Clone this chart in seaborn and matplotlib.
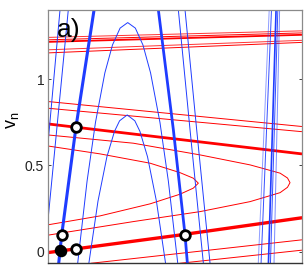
import matplotlib
matplotlib.use("Agg")
import matplotlib.pyplot as plt
import seaborn as sns
import pandas as pd

# ---------------- data ----------------
# red curves
red_top1_x = [0.0, 1.0]; red_top1_y = [1.243, 1.281]
red_top2_x = [0.0, 1.0]; red_top2_y = [1.229, 1.269]
red_top3_x = [0.0, 1.0]; red_top3_y = [1.217, 1.258]
red_top4_x = [0.0, 1.0]; red_top4_y = [1.171, 1.226]
red_top5_x = [0.0, 1.0]; red_top5_y = [1.153, 1.214]

red_mid1_x = [0.0, 1.0]; red_mid1_y = [0.871, 0.726]
red_mid2_x = [0.0, 1.0]; red_mid2_y = [0.832, 0.696]
red_mid3_x = [0.0, 1.0]; red_mid3_y = [0.741, 0.567]

red_bigC_x = [0.0, 0.337, 0.600, 0.797, 0.915, 0.944, 0.954, 0.944, 0.915, 0.797, 0.600, 0.337, 0.0]
red_bigC_y = [0.677, 0.629, 0.561, 0.503, 0.455, 0.427, 0.400, 0.373, 0.342, 0.290, 0.232, 0.174, 0.095]

red_smallC_x = [0.0, 0.206, 0.403, 0.521, 0.573, 0.593, 0.573, 0.521, 0.403, 0.206, 0.0]
red_smallC_y = [0.613, 0.567, 0.513, 0.458, 0.426, 0.397, 0.368, 0.333, 0.277, 0.207, 0.155]

red_bot1_x = [0.0, 0.5, 1.0]; red_bot1_y = [-0.006, 0.092, 0.196]
red_bot2_x = [0.17, 1.0]; red_bot2_y = [-0.068, 0.068]
red_bot3_x = [0.52, 1.0]; red_bot3_y = [-0.068, 0.008]

# blue curves
blue_thick1_x = [0.0433, 0.0551, 0.1115, 0.1824]
blue_thick1_y = [-0.068, 0.0967, 0.725, 1.402]
blue_thick2_x = [0.4357, 0.4948, 0.5407, 0.5499]
blue_thick2_y = [1.402, 0.706, 0.0967, -0.068]
blue_q1_x = [0.5144, 0.5604, 0.6129]; blue_q1_y = [1.402, 0.706, -0.068]
blue_q2_x = [0.5407, 0.5866, 0.6391]; blue_q2_y = [1.402, 0.706, -0.068]

blue_bigP_x = [0.118, 0.155, 0.188, 0.225, 0.255, 0.285, 0.315, 0.345, 0.375, 0.405, 0.442, 0.475, 0.512]
blue_bigP_y = [-0.068, 0.409, 0.749, 1.037, 1.199, 1.297, 1.329, 1.297, 1.199, 1.037, 0.749, 0.409, -0.068]
blue_smallP_x = [0.162, 0.198, 0.233, 0.263, 0.283, 0.313, 0.343, 0.363, 0.393, 0.428, 0.464]
blue_smallP_y = [-0.068, 0.293, 0.550, 0.698, 0.759, 0.793, 0.759, 0.698, 0.550, 0.293, -0.068]

blue_l1_x = [0.0484, 0.0]; blue_l1_y = [1.402, 0.607]
blue_l2_x = [0.0810, 0.0354, 0.0]; blue_l2_y = [1.402, 0.706, 0.166]

blue_r1_x = [0.829, 0.872]; blue_r1_y = [-0.068, 1.402]
blue_r2_x = [0.840, 0.881]; blue_r2_y = [-0.068, 1.402]
blue_r3_x = [0.869, 0.899]; blue_r3_y = [-0.068, 1.402]
blue_r4_x = [0.877, 0.906]; blue_r4_y = [-0.068, 1.402]
blue_r5_x = [0.891, 0.913]; blue_r5_y = [-0.068, 1.402]

# fixed points
open_pts_x = [0.1115, 0.0551, 0.1115, 0.5407]
open_pts_y = [0.725, 0.0967, 0.0135, 0.0967]
filled_pts_x = [0.0466, 0.0506]
filled_pts_y = [0.0098, 0.0018]

ytick_vals = [0, 0.5, 1]
ytick_labels = ["0", "0.5", "1"]
panel_label = "a)"
y_label = r"$\mathregular{v_n}$"

# ---------------- style ----------------
sns.set_theme(style="white")
plt.rcParams["font.family"] = ["Liberation Sans", "DejaVu Sans"]
plt.rcParams["mathtext.fontset"] = "custom"
plt.rcParams["mathtext.rm"] = "Liberation Sans"

RED = "#ff0000"
BLUE = "#1f3cff"
THIN = 0.7
THICK = 2.0

curves = [
    (red_top1_x, red_top1_y, RED, THIN, 0.8),
    (red_top2_x, red_top2_y, RED, THIN, 1.0),
    (red_top3_x, red_top3_y, RED, 1.3, 1.0),
    (red_top4_x, red_top4_y, RED, THIN, 0.8),
    (red_top5_x, red_top5_y, RED, THIN, 1.0),
    (red_mid1_x, red_mid1_y, RED, THIN, 1.0),
    (red_mid2_x, red_mid2_y, RED, THIN, 1.0),
    (red_mid3_x, red_mid3_y, RED, THICK, 1.0),
    (red_bigC_x, red_bigC_y, RED, THIN, 1.0),
    (red_smallC_x, red_smallC_y, RED, THIN, 1.0),
    (red_bot1_x, red_bot1_y, RED, 2.4, 1.0),
    (red_bot2_x, red_bot2_y, RED, THIN, 1.0),
    (red_bot3_x, red_bot3_y, RED, THIN, 1.0),
    (blue_thick1_x, blue_thick1_y, BLUE, 2.2, 1.0),
    (blue_thick2_x, blue_thick2_y, BLUE, 2.0, 1.0),
    (blue_q1_x, blue_q1_y, BLUE, THIN, 1.0),
    (blue_q2_x, blue_q2_y, BLUE, THIN, 1.0),
    (blue_bigP_x, blue_bigP_y, BLUE, THIN, 1.0),
    (blue_smallP_x, blue_smallP_y, BLUE, THIN, 1.0),
    (blue_l1_x, blue_l1_y, BLUE, THIN, 1.0),
    (blue_l2_x, blue_l2_y, BLUE, THIN, 1.0),
    (blue_r1_x, blue_r1_y, BLUE, THIN, 0.5),
    (blue_r2_x, blue_r2_y, BLUE, THIN, 0.9),
    (blue_r3_x, blue_r3_y, BLUE, 1.2, 1.0),
    (blue_r4_x, blue_r4_y, BLUE, THIN, 0.9),
    (blue_r5_x, blue_r5_y, BLUE, THIN, 0.6),
]

fig = plt.figure(figsize=(3.05, 2.67), dpi=100)
ax = fig.add_axes([0.1564, 0.0139, 0.8328, 0.9486])

for xs, ys, col, lw, a in curves:
    df = pd.DataFrame({"x": xs, "y": ys})
    sns.lineplot(data=df, x="x", y="y", sort=False, estimator=None,
                 color=col, lw=lw, alpha=a, ax=ax)

sns.scatterplot(x=filled_pts_x, y=filled_pts_y, s=42, color="black",
                edgecolor="black", linewidth=1.8, zorder=6, ax=ax)
sns.scatterplot(x=open_pts_x, y=open_pts_y, s=48, facecolor="white",
                edgecolor="black", linewidth=2.0, zorder=5, ax=ax)

ax.set_xlim(0, 1)
ax.set_ylim(-0.068, 1.402)
ax.set_xticks([])
ax.set_yticks(ytick_vals)
ax.set_yticklabels(ytick_labels)
ax.tick_params(axis="y", direction="in", length=2.5, width=0.6, pad=2.5,
               labelsize=10, right=True, left=True, colors="#222222")
ax.set_xlabel("")
ax.set_ylabel("")

for side in ["left", "top", "right"]:
    ax.spines[side].set_color("#8a8a8a")
    ax.spines[side].set_linewidth(0.9)
ax.spines["bottom"].set_color("#333333")
ax.spines["bottom"].set_linewidth(1.0)

ax.text(0.037, 0.895, panel_label, transform=ax.transAxes, fontsize=19,
        ha="left", va="baseline", color="black")
ax.text(-0.137, 0.566, y_label, transform=ax.transAxes, fontsize=13,
        rotation=90, ha="center", va="center", color="black")

fig.savefig("out.png", dpi=100)
